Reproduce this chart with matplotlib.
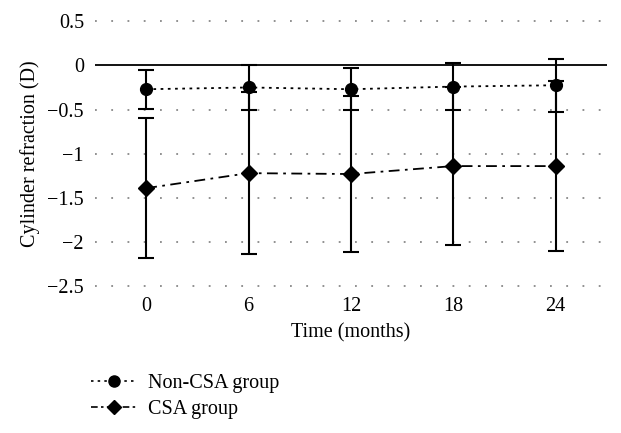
import numpy as np
import matplotlib.pyplot as plt
from matplotlib.lines import Line2D

# data
months = ['0', '6', '12', '18', '24']
non_csa_mean = [-0.27, -0.25, -0.27, -0.24, -0.225]
non_csa_sd = [0.22, 0.25, 0.24, 0.27, 0.30]
csa_mean = [-1.39, -1.22, -1.23, -1.14, -1.14]
csa_sd = [0.79, 0.92, 0.88, 0.89, 0.96]

plt.rcParams['font.family'] = ['Liberation Serif', 'DejaVu Serif']
plt.rcParams['font.size'] = 14.5

fig = plt.figure(figsize=(6.21, 4.33), dpi=100)
ax = fig.add_axes([0.153, 0.339, 0.824, 0.612])

x = np.arange(len(months))

ax.errorbar(x, non_csa_mean, yerr=non_csa_sd, color='black', linestyle=(0, (1.5, 2.5)),
            linewidth=1.3, marker='o', markersize=8.5, capsize=6, elinewidth=1.5,
            capthick=1.5, zorder=4)
ax.errorbar(x, csa_mean, yerr=csa_sd, color='black', linestyle=(0, (6, 3, 1.5, 3)),
            linewidth=1.3, marker='D', markersize=8, capsize=6, elinewidth=1.5,
            capthick=1.5, zorder=4)

# grid lines and zero line
for yv in [0.5, -0.5, -1, -1.5, -2, -2.5]:
    ax.axhline(yv, color='#888888', linestyle=(0, (1, 8)), linewidth=1.3, zorder=1, clip_on=False)
ax.axhline(0, color='black', linewidth=1.3, zorder=2)

ax.set_xlim(-0.5, 4.5)
ax.set_ylim(-2.5, 0.5)
ax.set_xticks(x)
ax.set_xticklabels(months)
ax.set_yticks([0.5, 0, -0.5, -1, -1.5, -2, -2.5])
ax.set_yticklabels(['0.5', '0', '\u22120.5', '\u22121', '\u22121.5', '\u22122', '\u22122.5'])
ax.tick_params(length=0, pad=8)
for s in ax.spines.values():
    s.set_visible(False)

ax.set_xlabel('Time (months)', labelpad=5)
ax.set_ylabel('Cylinder refraction (D)', labelpad=5)

handles = [
    Line2D([], [], color='black', linestyle=(0, (1.5, 2.5)), linewidth=1.2, marker='o', markersize=8),
    Line2D([], [], color='black', linestyle=(0, (4, 2, 1.5, 2)), linewidth=1.2, marker='D', markersize=7),
]
fig.legend(handles, ['Non-CSA group', 'CSA group'], loc='upper left',
           bbox_to_anchor=(0.133, 0.155), frameon=False, handlelength=2.3,
           handletextpad=0.55, labelspacing=0.35, borderaxespad=0)

fig.savefig('out.png', dpi=100)
